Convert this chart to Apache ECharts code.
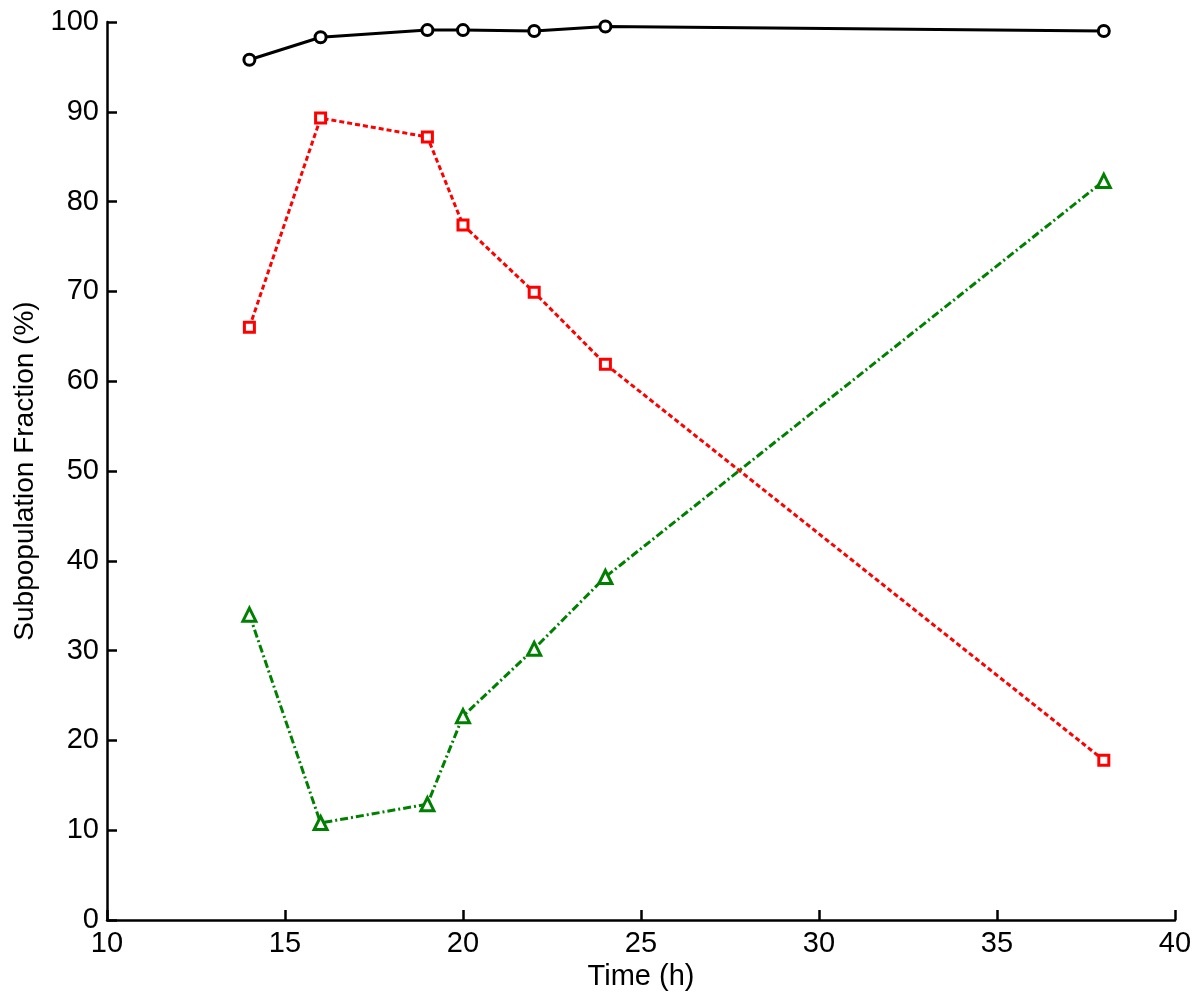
<!DOCTYPE html>
<html>
<head>
<meta charset="utf-8">
<script src="https://cdn.jsdelivr.net/npm/echarts@6/dist/echarts.min.js"></script>
<style>
html,body{margin:0;padding:0;background:#fff;}
#chart{width:1200px;height:1003px;}
</style>
</head>
<body>
<div id="chart"></div>
<script>
var times = [14, 16, 19, 20, 22, 24, 38];
var blackValues = [95.8, 98.3, 99.1, 99.1, 99.0, 99.5, 99.0];
var redValues = [66.0, 89.3, 87.2, 77.4, 69.9, 61.9, 17.8];
var greenValues = [34.0, 10.8, 12.9, 22.7, 30.2, 38.2, 82.3];
var xTitle = 'Time (h)';
var yTitle = 'Subpopulation Fraction (%)';

function pairs(vals){ return times.map(function(t,i){ return [t, vals[i]]; }); }

var font = 'Liberation Sans, Arial, sans-serif';
var chart = echarts.init(document.getElementById('chart'), null, {renderer:'canvas'});
chart.setOption({
  animation:false,
  backgroundColor:'#fff',
  grid:{left:107, right:25, top:22, bottom:83, containLabel:false},
  xAxis:{
    type:'value', min:10, max:40, interval:5,
    name:xTitle, nameLocation:'middle', nameGap:41,
    nameTextStyle:{fontFamily:font, fontSize:29, color:'#000'},
    axisLine:{show:true, onZero:false, lineStyle:{color:'#000', width:2.5}},
    axisTick:{show:true, inside:true, length:10, lineStyle:{color:'#000', width:2.5}},
    axisLabel:{fontFamily:font, fontSize:29, color:'#000', margin:9},
    splitLine:{show:false}
  },
  yAxis:{
    type:'value', min:0, max:100, interval:10,
    name:yTitle, nameLocation:'middle', nameGap:63, nameRotate:90,
    nameTextStyle:{fontFamily:font, fontSize:28, color:'#000'},
    axisLine:{show:true, onZero:false, lineStyle:{color:'#000', width:2.5}},
    axisTick:{show:true, inside:true, length:10, lineStyle:{color:'#000', width:2.5}},
    axisLabel:{fontFamily:font, fontSize:29, color:'#000', margin:8},
    splitLine:{show:false}
  },
  series:[
    {type:'line', data:pairs(blackValues), symbol:'circle', symbolSize:11, showAllSymbol:true,
     lineStyle:{color:'#000', width:3},
     itemStyle:{color:'#fff', borderColor:'#000', borderWidth:3}},
    {type:'line', data:pairs(redValues), symbol:'rect', symbolSize:10,
     lineStyle:{color:'#ff0000', width:3, type:[5,3]},
     itemStyle:{color:'#fff', borderColor:'#ff0000', borderWidth:3}},
    {type:'line', data:pairs(greenValues), symbol:'triangle', symbolSize:13,
     lineStyle:{color:'#008000', width:3, type:[8,3,2,3]},
     itemStyle:{color:'#fff', borderColor:'#008000', borderWidth:3}}
  ]
});
</script>
</body>
</html>
